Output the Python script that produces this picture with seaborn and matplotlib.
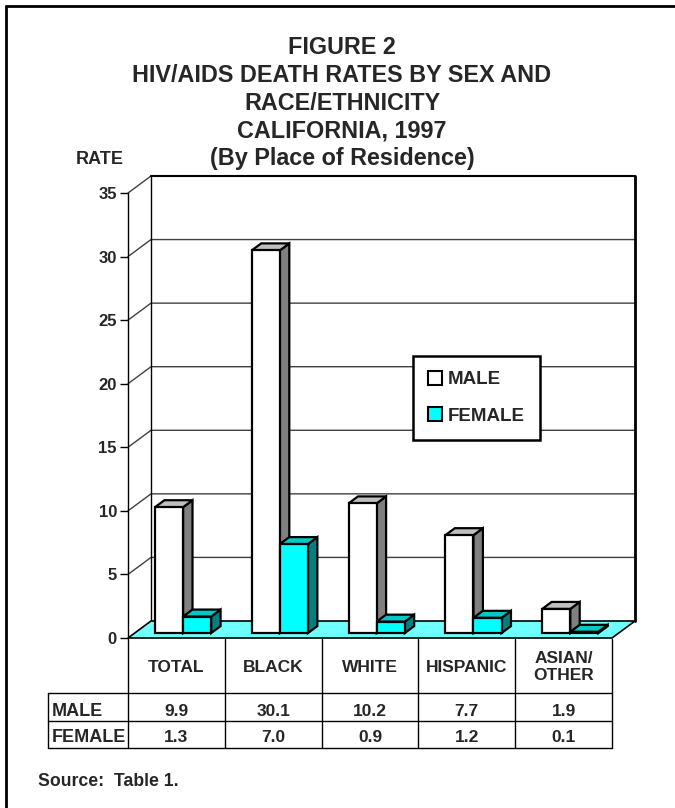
import pandas as pd
import matplotlib
matplotlib.use("Agg")
import matplotlib.pyplot as plt
from matplotlib.patches import Polygon, Patch
from matplotlib.lines import Line2D
import matplotlib.transforms as mtransforms
import seaborn as sns

# ==========================================
# DATA
# ==========================================
categories = ['TOTAL', 'BLACK', 'WHITE', 'HISPANIC', 'ASIAN/\nOTHER']
male_rates = [9.9, 30.1, 10.2, 7.7, 1.9]
female_rates = [1.3, 7.0, 0.9, 1.2, 0.1]
male_labels = ['9.9', '30.1', '10.2', '7.7', '1.9']
female_labels = ['1.3', '7.0', '0.9', '1.2', '0.1']
sexes = ['MALE', 'FEMALE']
y_ticks = [0, 5, 10, 15, 20, 25, 30, 35]

df = pd.DataFrame({
    'group': categories * 2,
    'sex': ['MALE'] * len(categories) + ['FEMALE'] * len(categories),
    'rate': male_rates + female_rates,
})

# colours (front, side, top)
face = {'MALE': '#FFFFFF', 'FEMALE': '#00FFFF'}
side = {'MALE': '#808080', 'FEMALE': '#008080'}
top = {'MALE': '#C0C0C0', 'FEMALE': '#00C8C8'}
floor_col = '#70FFFF'

sns.set_theme(style="white")
plt.rcParams['font.family'] = ['Liberation Sans', 'DejaVu Sans']
plt.rcParams['font.weight'] = 'bold'

W, H = 675, 808
fig = plt.figure(figsize=(W / 100, H / 100), dpi=100)


def fx(x):
    return x / W


def fy(y):
    return 1 - y / H


# front plane of the chart (pixels): x 128..612, y 638 (0) .. 193 (35)
ax = fig.add_axes([fx(128), fy(638), (612 - 128) / W, (638 - 193) / H])
ax.patch.set_alpha(0)

# ==========================================
# BARS (seaborn front faces)
# ==========================================
sns.barplot(data=df, x='group', y='rate', hue='sex', hue_order=sexes,
            palette=face, saturation=1, width=0.58, edgecolor='black',
            linewidth=1.6, legend=False, ax=ax)
bars = list(ax.patches)

ax.set_xlim(-0.5, len(categories) - 0.5)
ax.set_ylim(0, 35)

# depth of the 3D box in data units
DX = 23 / 96.8
DY = 17 / 12.71
f0, f1 = 0.29, 0.70   # bar front / back depth fractions
x0, x1 = -0.5, len(categories) - 0.5

# ==========================================
# WALLS, FLOOR AND GRID
# ==========================================
for v in y_ticks[1:]:
    ax.plot([x0, x0 + DX, x1 + DX], [v, v + DY, v + DY], color='#404040',
            lw=1, clip_on=False, zorder=1)
ax.plot([x0 + DX, x0 + DX], [DY, 35 + DY], color='black', lw=1, clip_on=False, zorder=1)
ax.plot([x0 + DX, x1 + DX], [35 + DY, 35 + DY], color='black', lw=1.5, clip_on=False, zorder=1)
ax.plot([x1 + DX, x1 + DX], [DY, 35 + DY], color='black', lw=2, clip_on=False, zorder=1)

floor = Polygon([[x0, 0], [x0 + DX, DY], [x1 + DX, DY], [x1, 0]], closed=True,
                facecolor=floor_col, edgecolor='black', lw=1.2, clip_on=False, zorder=2)
ax.add_patch(floor)

# 3D sides and tops for each bar
ddx = (f1 - f0) * DX
ddy = (f1 - f0) * DY
for i, p in enumerate(bars):
    sex = sexes[i // len(categories)]
    z = 3 if sex == 'MALE' else 4
    p.set_x(p.get_x() + f0 * DX)
    p.set_y(f0 * DY)
    p.set_zorder(z + 0.2)
    p.set_clip_on(False)
    bx, by, bw, bh = p.get_x(), p.get_y(), p.get_width(), p.get_height()
    sd = Polygon([[bx + bw, by], [bx + bw + ddx, by + ddy],
                  [bx + bw + ddx, by + bh + ddy], [bx + bw, by + bh]],
                 closed=True, facecolor=side[sex], edgecolor='black', lw=1.6,
                 clip_on=False, zorder=z)
    tp = Polygon([[bx, by + bh], [bx + ddx, by + bh + ddy],
                  [bx + bw + ddx, by + bh + ddy], [bx + bw, by + bh]],
                 closed=True, facecolor=top[sex], edgecolor='black', lw=1.6,
                 clip_on=False, zorder=z + 0.1)
    ax.add_patch(sd)
    ax.add_patch(tp)

# ==========================================
# AXES STYLE
# ==========================================
for s in ['top', 'right', 'bottom']:
    ax.spines[s].set_visible(False)
ax.spines['left'].set_color('black')
ax.spines['left'].set_linewidth(1)
ax.set_yticks(y_ticks)
ax.set_yticklabels([str(t) for t in y_ticks], fontsize=12, fontweight='bold')
ax.tick_params(axis='y', direction='out', length=6, width=1, color='black', pad=2, left=True)
ax.set_xticks([])
ax.set_xlabel('')
ax.set_ylabel('')

# legend
handles = [Patch(facecolor=face[s], edgecolor='black', lw=1.5) for s in sexes]
leg = fig.legend(handles, sexes, loc='upper left', bbox_to_anchor=(fx(413), fy(356)),
                 frameon=True, fancybox=False, framealpha=1, edgecolor='black',
                 prop={'size': 13.5, 'weight': 'bold'}, handlelength=0.75,
                 handleheight=0.75, handletextpad=0.3, labelspacing=1.0,
                 borderpad=0.8, borderaxespad=0)
leg.get_frame().set_linewidth(1.8)
leg.set_zorder(10)

# ==========================================
# DATA TABLE BELOW THE CHART
# ==========================================
blend = mtransforms.blended_transform_factory(ax.transData, fig.transFigure)
tbl_top, hdr_bot, male_bot, fem_bot = 639, 693, 721, 748
for k in range(len(categories) + 1):
    xk = -0.5 + k
    fig.add_artist(Line2D([xk, xk], [fy(tbl_top), fy(fem_bot)], transform=blend,
                          color='black', lw=1))
for yy in [hdr_bot, male_bot, fem_bot]:
    fig.add_artist(Line2D([fx(48), fx(612)], [fy(yy), fy(yy)], color='black', lw=1))
fig.add_artist(Line2D([fx(48), fx(48)], [fy(hdr_bot), fy(fem_bot)], color='black', lw=1))

for i, c in enumerate(categories):
    ax.text(i, fy(667), c, transform=blend, ha='center', va='center', fontsize=12.5,
            fontweight='bold', linespacing=1.1, clip_on=False)
    ax.text(i, fy(711), male_labels[i], transform=blend, ha='center', va='center',
            fontsize=12.5, fontweight='bold', clip_on=False)
    ax.text(i, fy(738), female_labels[i], transform=blend, ha='center', va='center',
            fontsize=12.5, fontweight='bold', clip_on=False)

fig.text(fx(52), fy(711), 'MALE', ha='left', va='center', fontsize=13, fontweight='bold')
fig.text(fx(52), fy(738), 'FEMALE', ha='left', va='center', fontsize=13, fontweight='bold')

# ==========================================
# TITLES AND NOTES
# ==========================================
title_lines = ['FIGURE 2', 'HIV/AIDS DEATH RATES BY SEX AND', 'RACE/ETHNICITY',
               'CALIFORNIA, 1997', '(By Place of Residence)']
for j, t in enumerate(title_lines):
    fig.text(fx(342), fy(47 + 28 * j), t, ha='center', va='center',
             fontsize=16.8, fontweight='bold')
fig.text(fx(100), fy(159), 'RATE', ha='center', va='center', fontsize=13, fontweight='bold')
fig.text(fx(38), fy(782), 'Source:  Table 1.', ha='left', va='center', fontsize=12.7,
         fontweight='bold')

# page frame (left and top edges)
fig.add_artist(Line2D([fx(6), fx(6)], [0, fy(6)], color='black', lw=2))
fig.add_artist(Line2D([fx(6), 1], [fy(6), fy(6)], color='black', lw=2))

plt.savefig('out.png', dpi=100)
print("Saved out.png")
